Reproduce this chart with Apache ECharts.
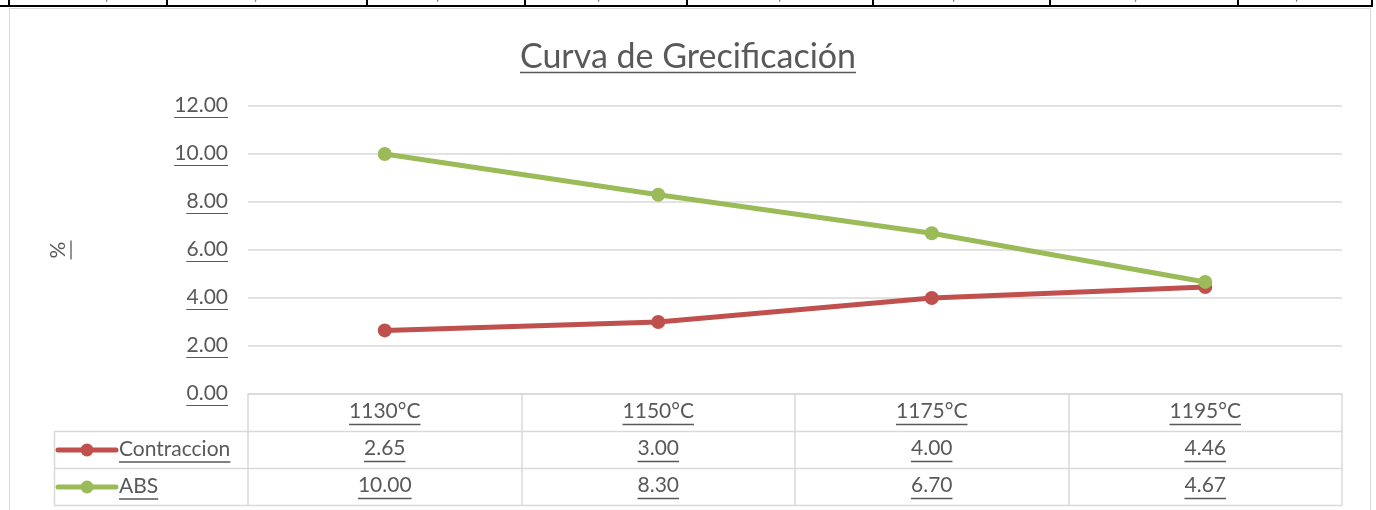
<!DOCTYPE html>
<html>
<head>
<meta charset="utf-8">
<script src="https://cdn.jsdelivr.net/npm/echarts@6/dist/echarts.min.js"></script>
<style>
  html, body { margin: 0; padding: 0; background: #fff; }
  #main { width: 1376px; height: 510px; }
</style>
</head>
<body>
<div id="main"></div>
<script>
// datos de la curva
var categories = ['1130°C', '1150°C', '1175°C', '1195°C'];
var contraccion = [2.65, 3.00, 4.00, 4.46];
var abs = [10.00, 8.30, 6.70, 4.67];
var seriesNames = ['Contraccion', 'ABS'];
var yMin = 0, yMax = 12, yStep = 2;
var titulo = 'Curva de Grecificación';
var yName = '%';

var FONT = 'Lato';
var TXT = '#595959';
var GRIDC = '#d9d9d9';
var colors = ['#C0504D', '#9BBB59'];
var LBL = 21;

// subrayado con rich (solo funciona bien con texto alineado a izq/der)
function ul(s) {
  return '{t|' + s + '}\n{u|}';
}
function richFor(size, lh) {
  return {
    t: { fontSize: size, lineHeight: lh, color: TXT, fill: TXT, fontFamily: FONT, fontWeight: 'normal' },
    u: { width: '100%', height: 0, borderWidth: 1, borderColor: TXT, lineHeight: 2 }
  };
}

// medir texto para los subrayados centrados
var ctx = document.createElement('canvas').getContext('2d');
function textWidth(s, size) {
  ctx.font = 'normal ' + size + 'px ' + FONT;
  return ctx.measureText(s).width;
}

var chart = echarts.init(document.getElementById('main'));

var gridL = 248, gridR = 1342, gridT = 106, gridB = 394;
var rowH = 37;
var tableL = 54;
var tableBottom = gridB + rowH * 3;
var lblMargin = 6, lblLH = 23;
var titleTop = 34, titleSize = 34, titleLH = 37;
var nameGap = 179;

function fmt(v) { return v.toFixed(2); }
var rows = [categories, contraccion.map(fmt), abs.map(fmt)];

function rowAxis(idx) {
  return {
    type: 'category',
    position: 'bottom',
    offset: rowH * idx,
    data: rows[idx],
    axisLine: { show: false },
    axisTick: { show: false },
    splitLine: { show: false },
    axisLabel: {
      interval: 0,
      margin: lblMargin,
      color: TXT,
      fontFamily: FONT,
      fontSize: LBL,
      lineHeight: lblLH,
      verticalAlign: 'top'
    }
  };
}

// linea negra de las celdas de la hoja que queda arriba
var cellX = [9, 167, 367, 525, 687, 873, 1050, 1238, 1372];
var commaX = [105, 254, 436, 597, 778, 952, 1134, 1295];

var graphics = [];
graphics.push({
  type: 'rect', silent: true,
  shape: { x: 9.5, y: 8.5, width: 1361, height: 520 },
  style: { fill: null, stroke: GRIDC, lineWidth: 1 }
});
graphics.push({
  type: 'line', silent: true,
  shape: { x1: 0, y1: 6, x2: 1373, y2: 6 },
  style: { stroke: '#000', lineWidth: 2 }
});
cellX.forEach(function (x) {
  graphics.push({
    type: 'line', silent: true,
    shape: { x1: x, y1: 0, x2: x, y2: 7 },
    style: { stroke: '#000', lineWidth: 2 }
  });
});
commaX.forEach(function (x) {
  graphics.push({
    type: 'text', silent: true, x: x, y: -12,
    style: { text: ',', fontSize: 14, fill: '#000', fontFamily: FONT }
  });
});

// tabla de datos: bordes de filas y columna izquierda
[gridB + rowH, gridB + rowH * 2, tableBottom].forEach(function (y) {
  graphics.push({
    type: 'line', silent: true,
    shape: { x1: tableL, y1: y + 0.5, x2: gridR, y2: y + 0.5 },
    style: { stroke: GRIDC, lineWidth: 1.5 }
  });
});
graphics.push({
  type: 'line', silent: true,
  shape: { x1: tableL + 0.5, y1: gridB + rowH, x2: tableL + 0.5, y2: tableBottom },
  style: { stroke: GRIDC, lineWidth: 1.5 }
});

// claves de leyenda dentro de la tabla
seriesNames.forEach(function (name, i) {
  var cy = gridB + rowH * (i + 1) + rowH / 2 + 0.5;
  graphics.push({
    type: 'line', silent: true,
    shape: { x1: 58, y1: cy, x2: 116, y2: cy },
    style: { stroke: colors[i], lineWidth: 5, lineCap: 'round' }
  });
  graphics.push({
    type: 'circle', silent: true,
    shape: { cx: 87, cy: cy, r: 6.5 },
    style: { fill: colors[i] }
  });
  graphics.push({
    type: 'text', silent: true, x: 119, y: cy - 12,
    style: { text: ul(name), rich: richFor(LBL, lblLH), fill: TXT, align: 'left' }
  });
});

var option = {
  backgroundColor: '#fff',
  animation: false,
  title: {
    text: titulo,
    left: 'center',
    top: titleTop,
    textStyle: { fontWeight: 'normal', fontSize: titleSize, lineHeight: titleLH, color: TXT, fontFamily: FONT }
  },
  grid: {
    left: gridL,
    right: 1376 - gridR,
    top: gridT,
    bottom: 510 - gridB,
    containLabel: false,
    outerBoundsMode: 'none'
  },
  xAxis: [
    {
      type: 'category',
      data: categories,
      boundaryGap: true,
      axisLine: { show: true, lineStyle: { color: GRIDC, width: 1.5 } },
      axisTick: { show: true, length: rowH * 3, lineStyle: { color: GRIDC, width: 1.5 } },
      axisLabel: {
        interval: 0,
        margin: lblMargin,
        color: TXT,
        fontFamily: FONT,
        fontSize: LBL,
        lineHeight: lblLH,
        verticalAlign: 'top'
      }
    },
    rowAxis(1),
    rowAxis(2)
  ],
  yAxis: {
    type: 'value',
    min: yMin,
    max: yMax,
    interval: yStep,
    name: yName,
    nameLocation: 'middle',
    nameGap: nameGap,
    nameRotate: 90,
    nameTextStyle: { fontSize: LBL, color: TXT, fontFamily: FONT },
    axisLine: { show: false },
    axisTick: { show: false },
    splitLine: { lineStyle: { color: GRIDC, width: 1.5 } },
    axisLabel: {
      margin: 20,
      formatter: function (v) { return ul(fmt(v)); },
      rich: richFor(LBL, lblLH)
    }
  },
  series: [
    {
      name: seriesNames[0],
      type: 'line',
      data: contraccion,
      symbol: 'circle',
      symbolSize: 14,
      lineStyle: { color: colors[0], width: 5 },
      itemStyle: { color: colors[0] }
    },
    {
      name: seriesNames[1],
      type: 'line',
      data: abs,
      symbol: 'circle',
      symbolSize: 14,
      lineStyle: { color: colors[1], width: 5 },
      itemStyle: { color: colors[1] }
    }
  ],
  graphic: graphics
};

chart.setOption(option);

// subrayados de los textos centrados (titulo, encabezados y valores de la tabla)
var unders = [];
function addUnder(cx, y, w) {
  unders.push({
    type: 'line', silent: true,
    shape: { x1: cx - w / 2, y1: y, x2: cx + w / 2, y2: y },
    style: { stroke: TXT, lineWidth: 1.3 }
  });
}
rows.forEach(function (labels, k) {
  labels.forEach(function (s, j) {
    var cx = chart.convertToPixel({ xAxisIndex: k }, s);
    var y = gridB + rowH * k + lblMargin + lblLH + 1.5;
    addUnder(cx, y, textWidth(s, LBL));
  });
});
addUnder(688, titleTop + titleLH + 1.5, textWidth(titulo, titleSize));
// subrayado del nombre del eje (texto girado, queda a la derecha)
var midY = chart.convertToPixel({ yAxisIndex: 0 }, (yMin + yMax) / 2);
var wp = textWidth(yName, LBL);
var ux = gridL - nameGap + 2;
unders.push({
  type: 'line', silent: true,
  shape: { x1: ux, y1: midY - wp / 2 - 1, x2: ux, y2: midY + wp / 2 + 1 },
  style: { stroke: TXT, lineWidth: 1.3 }
});

chart.setOption({ graphic: graphics.concat(unders) });
</script>
</body>
</html>
